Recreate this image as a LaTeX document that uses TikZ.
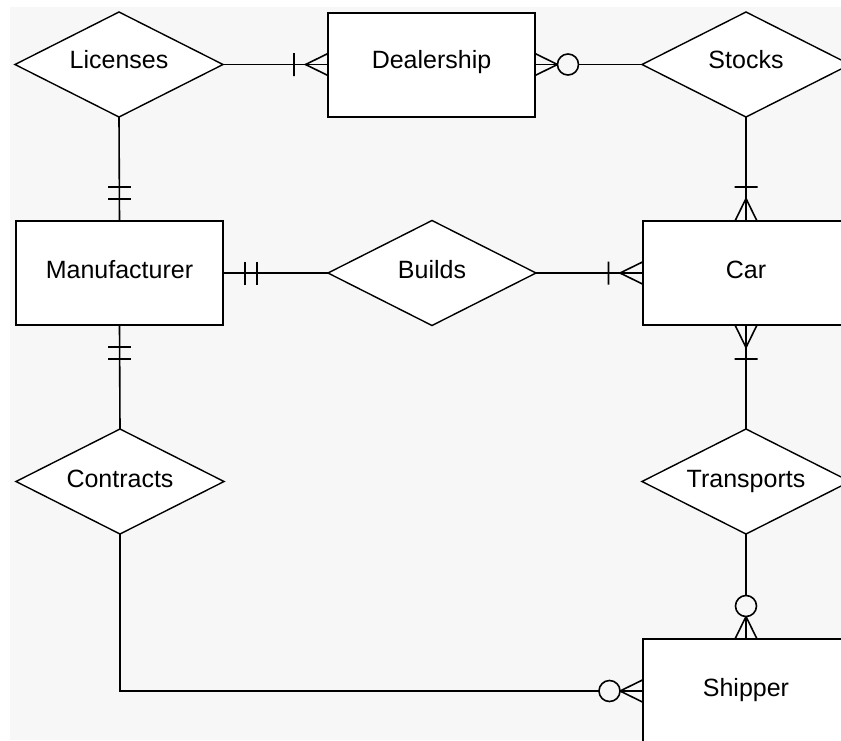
\documentclass[tikz,border=0pt]{standalone}
\usepackage{fontspec}
\setmainfont{Liberation Sans}
\usetikzlibrary{shapes.geometric}

\definecolor{bgcol}{HTML}{F7F7F7}

\tikzset{
  entity/.style={draw,line width=2pt,fill=white,rectangle,minimum width=207pt,minimum height=104pt,
    inner sep=0pt,outer sep=0pt,text height=18pt,text depth=7pt,font=\fontsize{25}{30}\selectfont},
  relation/.style={draw,line width=1.4pt,fill=white,diamond,aspect=2,minimum width=208pt,minimum height=105pt,
    inner sep=0pt,outer sep=0pt,text height=18pt,text depth=7pt,font=\fontsize{25}{30}\selectfont},
  toprow/.style={text depth=10pt},
  link/.style={line width=1.6pt},
  % crow's foot end marks, x axis points away from the entity
  onlyone/.pic={\draw[link] (22,-11.5)--(22,11.5) (34,-11.5)--(34,11.5);},
  onemany/.pic={\draw[link] (0,-11)--(22.5,0)--(0,11) (34,-11.5)--(34,11.5);},
  zeromany/.pic={\draw[link] (0,-11)--(22.5,0)--(0,11);
    \draw[link,fill=bgcol] (33,0) circle[radius=10.5pt];},
}

\begin{document}
\begin{tikzpicture}[x=1pt,y=-1pt]
\useasboundingbox (0,0) rectangle (841,740);
\clip (0,0) rectangle (841,740);
\fill[bgcol] (10,7) rectangle (841,740);

% relationships
\node[relation,toprow] (lic)   at (119,64.5)  {Licenses};
\node[relation,toprow] (stock) at (746,64.5)  {Stocks};
\node[relation] (build) at (432,273)   {Builds};
\node[relation] (contr) at (120,481.5) {Contracts};
\node[relation] (trans) at (746,481.5) {Transports};

% entities
\node[entity,toprow] (deal) at (431.5,64.5) {Dealership};
\node[entity] (manu) at (119.5,273)  {Manufacturer};
\node[entity] (car)  at (746,273)    {Car};
\node[entity] (ship) at (746,691)    {Shipper};

% connectors
\draw[link] (lic.east) -- (deal.west);
\draw[link] (deal.east) -- (stock.west);
\draw[link] (lic.south) -- (manu.north);
\draw[link] (manu.east) -- (build.west);
\draw[link] (build.east) -- (car.west);
\draw[link] (stock.south) -- (car.north);
\draw[link] (car.south) -- (trans.north);
\draw[link] (trans.south) -- (ship.north);
\draw[link] (manu.south) -- (contr.north);
\draw[link] (contr.south) |- (ship.west);

% cardinalities
\pic[rotate=180] at (deal.west) {onemany};
\pic at (deal.east) {zeromany};
\pic[rotate=90] at (manu.north) {onlyone};
\pic at (manu.east) {onlyone};
\pic[rotate=270] at (manu.south) {onlyone};
\pic[rotate=180] at (car.west) {onemany};
\pic[rotate=90] at (car.north) {onemany};
\pic[rotate=270] at (car.south) {onemany};
\pic[rotate=90] at (ship.north) {zeromany};
\pic[rotate=180] at (ship.west) {zeromany};
\end{tikzpicture}
\end{document}
